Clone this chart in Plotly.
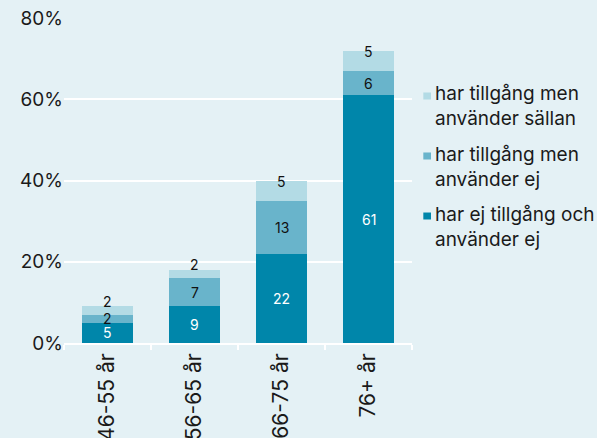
import plotly.graph_objects as go

categories = ["46-55 år", "56-65 år", "66-75 år", "76+ år"]
no_access = [5, 9, 22, 61]          # har ej tillgång och använder ej
access_no_use = [2, 7, 13, 6]       # har tillgång men använder ej
access_rarely = [2, 2, 5, 5]        # har tillgång men använder sällan
y_ticks = [0, 20, 40, 60, 80]
y_tick_labels = ["0%", "20%", "40%", "60%", "80%"]

series = [
    ("har ej tillgång och<br>använder ej", no_access, "#0086AA", "white"),
    ("har tillgång men<br>använder ej", access_no_use, "#69B4CB", "#111111"),
    ("har tillgång men<br>använder sällan", access_rarely, "#B3DBE5", "#111111"),
]

FONT = "Inter, DejaVu Sans, sans-serif"
fig = go.Figure()
annotations = []
base = [0] * len(categories)
for idx, (name, vals, color, tcolor) in enumerate(series):
    fig.add_trace(go.Bar(x=categories, y=vals, name=name, marker=dict(color=color, line=dict(width=0)),
                         showlegend=False, hoverinfo="skip"))
    for i, v in enumerate(vals):
        mid = base[i] + v / 2
        annotations.append(dict(x=categories[i], y=mid, xref="x", yref="y", text=str(v), showarrow=False,
                                font=dict(family=FONT, size=14, color=tcolor),
                                yshift=9 if idx == 2 else 0))
        base[i] += v

# legend (custom, top entry first)
leg_y = [0.728, 0.543, 0.358]
sq = [(0.7492, 0.7708), (0.5646, 0.5862), (0.380, 0.4015)]
shapes = []
for k, (name, vals, color, tcolor) in enumerate(reversed(series)):
    annotations.append(dict(x=1.0603, y=leg_y[k], xref="paper", yref="paper", xanchor="left", yanchor="middle",
                            align="left", showarrow=False, text=name,
                            font=dict(family=FONT, size=19, color="#1a1a1a")))
    shapes.append(dict(type="rect", xref="paper", yref="paper", x0=1.0325, x1=1.0546,
                       y0=sq[k][0], y1=sq[k][1], fillcolor=color, line=dict(width=0)))

fig.update_layout(
    barmode="stack",
    bargap=0.41,
    width=597, height=438,
    margin=dict(l=64, r=185, t=18, b=95, autoexpand=False),
    paper_bgcolor="#E4F1F5",
    plot_bgcolor="#E4F1F5",
    font=dict(family=FONT, size=18, color="#1a1a1a"),
    annotations=annotations,
    shapes=shapes,
    xaxis=dict(type="category", tickangle=-90, showline=True, linecolor="white", linewidth=2,
               ticks="outside", tickson="boundaries", ticklen=5, tickwidth=2, tickcolor="white",
               showgrid=False, tickfont=dict(size=21), automargin=False),
    yaxis=dict(range=[0, 80], tickvals=y_ticks, ticktext=y_tick_labels, showgrid=True,
               gridcolor="white", gridwidth=2, zeroline=False, ticks="", showline=False,
               tickfont=dict(size=19), automargin=False),
)
fig.write_html("out.html", config={"displayModeBar": False},
               post_script="document.body.style.margin='0';document.body.style.overflow='hidden';")
